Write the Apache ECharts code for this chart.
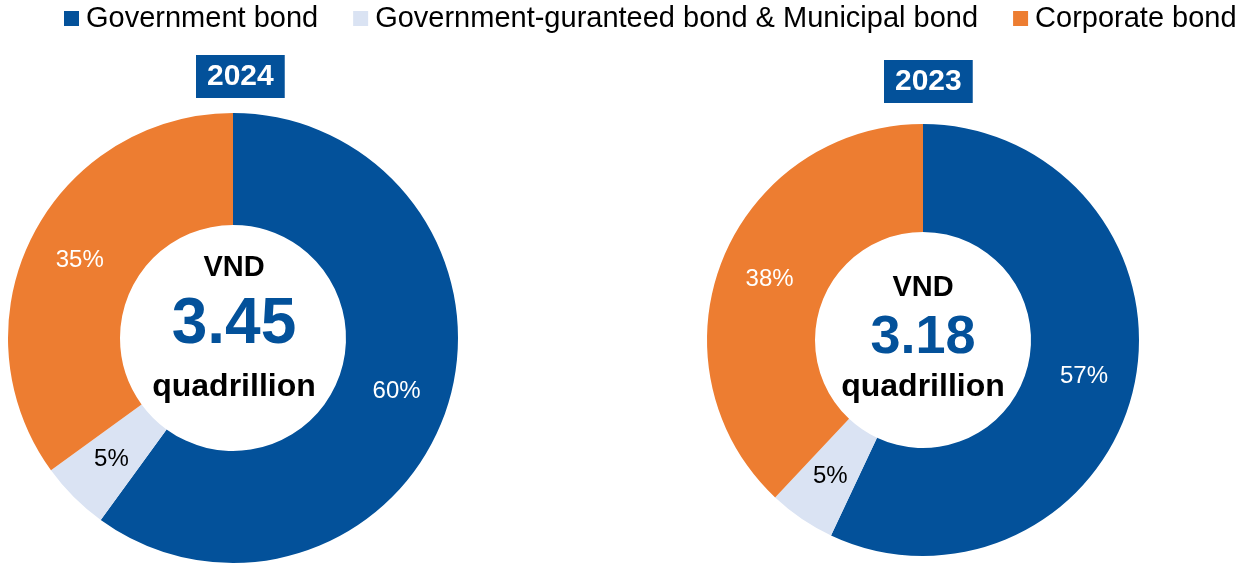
<!DOCTYPE html>
<html>
<head>
<meta charset="utf-8">
<script src="https://cdn.jsdelivr.net/npm/echarts@6/dist/echarts.min.js"></script>
<style>
  html, body { margin: 0; padding: 0; background: #ffffff; }
  #chart { width: 1258px; height: 564px; }
</style>
</head>
<body>
<div id="chart"></div>
<script>
// Bond market structure by segment
const categories = ['Government bond', 'Government-guranteed bond & Municipal bond', 'Corporate bond'];
const share2024 = [60, 5, 35];
const share2023 = [57, 5, 38];
const years = ['2024', '2023'];
const totals = ['3.45', '3.18'];
const unitTop = 'VND';
const unitBottom = 'quadrillion';

const colors = ['#03519A', '#DAE3F3', '#ED7D31'];
const labelColors = ['#ffffff', '#000000', '#ffffff'];
const FONT = '"Liberation Sans", Arial, sans-serif';

function pieData(values) {
  return values.map((v, i) => ({
    name: categories[i],
    value: v,
    itemStyle: { color: colors[i] },
    label: { color: labelColors[i] }
  }));
}

function pieSeries(values, center, radius) {
  return {
    type: 'pie',
    center: center,
    radius: radius,
    startAngle: 90,
    clockwise: true,
    avoidLabelOverlap: false,
    silent: true,
    itemStyle: { borderWidth: 0 },
    label: {
      show: true,
      position: 'inside',
      fontFamily: FONT,
      fontSize: 24,
      formatter: p => p.value + '%'
    },
    labelLine: { show: false },
    data: pieData(values)
  };
}

function centerText(x, yTop, yNum, yBottom, numSize, total) {
  return [
    { type: 'text', x: x, y: yTop, style: { text: unitTop, fill: '#000', font: 'bold 29px ' + FONT, align: 'center', verticalAlign: 'middle' } },
    { type: 'text', x: x, y: yNum, style: { text: total, fill: '#03519A', font: 'bold ' + numSize + 'px ' + FONT, align: 'center', verticalAlign: 'middle' } },
    { type: 'text', x: x, y: yBottom, style: { text: unitBottom, fill: '#000', font: 'bold 32px ' + FONT, align: 'center', verticalAlign: 'middle' } }
  ];
}

const chart = echarts.init(document.getElementById('chart'), null, { renderer: 'canvas' });
chart.setOption({
  animation: false,
  color: colors,
  title: [
    { text: years[0], left: 196, top: 55, padding: [6, 11], backgroundColor: '#03519A',
      textStyle: { color: '#fff', fontSize: 30, fontWeight: 'bold', fontFamily: FONT, lineHeight: 31 } },
    { text: years[1], left: 884, top: 60, padding: [6, 11], backgroundColor: '#03519A',
      textStyle: { color: '#fff', fontSize: 30, fontWeight: 'bold', fontFamily: FONT, lineHeight: 31 } }
  ],
  legend: {
    data: categories,
    left: 64,
    top: 4,
    padding: 0,
    icon: 'rect',
    itemWidth: 15,
    itemHeight: 15,
    itemGap: 35,
    selectedMode: false,
    textStyle: { fontSize: 29, fontFamily: FONT, color: '#000', padding: [0, 0, 0, 2] }
  },
  graphic: [
    ...centerText(234, 268, 325, 387, 64, totals[0]),
    ...centerText(923, 288, 338, 387, 54, totals[1])
  ],
  series: [
    pieSeries(share2024, [233, 338], [113, 225]),
    pieSeries(share2023, [923, 340], [108, 216])
  ]
});
</script>
</body>
</html>
